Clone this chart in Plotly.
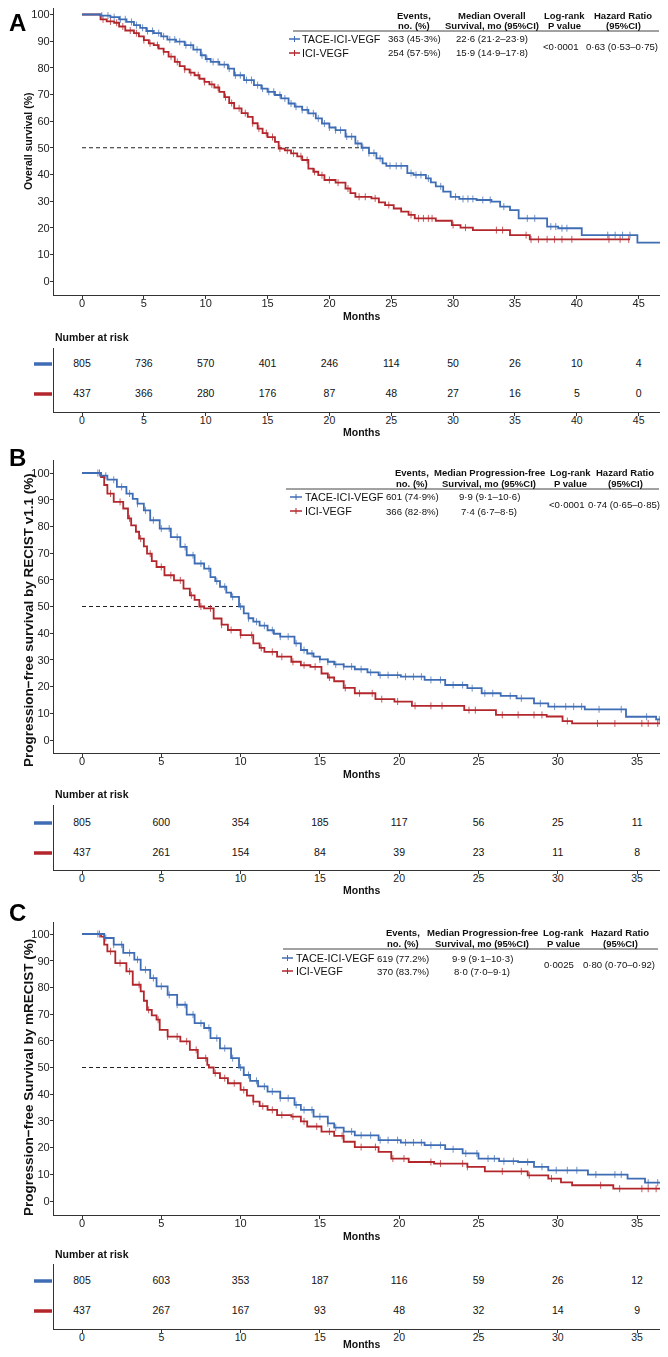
import numpy as np
import plotly.graph_objects as go

W, H = 668, 1357          # target page size
OFF = 8                   # default page margin around the plot div
FW, FH = W - 2 * OFF, H - 2 * OFF  # figure size that fits without scrollbars
RIGHT = W - OFF
BLUE = "#3F6DB5"
RED = "#B3262B"
AX = "#333333"
FONT = "Liberation Sans, Arial, sans-serif"
NARROW = "Liberation Sans Narrow, Liberation Sans, Arial, sans-serif"

# ---------------- DATA ----------------
groups = ["TACE-ICI-VEGF", "ICI-VEGF"]

# Panel A: overall survival
A_blue_t = [0, 1.0, 1.5, 2.3, 3.0, 3.6, 4.2, 4.7, 5.2, 5.8, 6.4, 6.9, 7.6, 8.3, 9.0, 9.6, 10.0, 10.4, 11.1, 11.8, 12.3,
            13.1, 13.9, 14.5, 15.0, 15.6, 16.1, 16.7, 17.2, 17.8, 18.3, 18.9, 19.4, 20.0, 20.5, 21.3, 22.1, 22.6, 23.2,
            23.8, 24.3, 24.6, 26.3, 26.8, 27.8, 28.2, 28.6, 29.2, 29.8, 30.5, 31.9, 33.1, 33.8, 34.6, 35.3, 37.6, 38.5,
            40.4, 44.9, 47.6]
A_blue_s = [100, 100, 99.6, 99, 98.2, 97.2, 96, 95, 93.8, 93, 91.8, 90.6, 89.8, 88.5, 86.8, 84.7, 83.3, 82.2, 81.2, 79.7,
            77.2, 75.4, 73.5, 72.2, 71, 69.8, 68.5, 66.6, 65.4, 64.2, 62.9, 61, 59.1, 57.6, 56.6, 54.2, 51.6, 50, 48,
            46, 44.1, 43.2, 40.5, 39.8, 38.5, 37, 35.5, 33.5, 31.6, 30.8, 30.4, 29.8, 27.9, 26.6, 23.5, 20.4, 19.8,
            17.2, 14.4, 14.4]
A_red_t = [0, 1.0, 1.5, 2.0, 2.6, 3.0, 3.5, 4.2, 4.6, 5.0, 5.4, 5.8, 6.2, 6.6, 7.0, 7.5, 7.9, 8.3, 8.7, 9.1, 9.5, 9.9,
           10.3, 10.7, 11.1, 11.5, 11.9, 12.3, 12.9, 13.4, 13.8, 14.2, 14.6, 15.0, 15.6, 15.9, 16.4, 16.9, 17.4, 17.8,
           18.3, 18.7, 19.1, 19.6, 20.5, 21.3, 21.7, 22.1, 23.4, 24.0, 24.5, 25.2, 25.8, 26.4, 26.9, 28.6, 29.9, 30.6,
           31.6, 34.6, 36.2, 44.3]
A_red_s = [100, 100, 98.2, 97.4, 96.9, 95.5, 94, 93, 91.8, 90.4, 89.2, 88.5, 87.2, 86, 84.2, 82.2, 80.6, 79.4, 78.2,
           77.2, 75.9, 74.7, 73.8, 72.6, 71, 69, 66.8, 64.8, 63, 61.6, 59.2, 57.2, 55.5, 54, 52.2, 49.7, 49, 47.9,
           46.8, 45.4, 42.2, 41, 39.7, 37.9, 36.9, 34.7, 33, 31.6, 31, 29.5, 28.5, 27.2, 26, 24.8, 23.5, 22.6, 21,
           20, 19.1, 17.2, 15.6, 15.6]
A_blue_cens = [1.6, 2.1, 2.6, 3.1, 3.5, 4.0, 4.4, 4.9, 5.3, 5.7, 6.2, 6.6, 7.1, 7.5, 7.9, 8.4, 8.8, 9.3, 9.7, 10.1, 10.6,
               11.0, 11.5, 11.9, 12.4, 12.8, 13.3, 13.7, 14.2, 14.6, 15.1, 15.5, 16.0, 16.4, 16.9, 17.3, 17.8, 18.2,
               18.7, 19.1, 19.6, 20.0, 20.5, 20.9, 21.4, 21.8, 22.3, 22.7, 23.2, 23.6, 24.1, 24.9, 25.4, 25.8, 26.6,
               27.0, 27.4, 28.0, 29.0, 30.2, 30.8, 31.2, 31.6, 32.4, 33.0, 34.1, 36.0, 36.6, 37.9, 38.3, 38.8, 39.2,
               42.5, 43.1, 43.7, 44.3, 46.9]
A_red_cens = [1.7, 2.3, 2.8, 3.3, 3.9, 4.4, 5.0, 5.5, 6.1, 6.6, 7.2, 7.7, 8.3, 8.8, 9.4, 9.9, 10.5, 11.0, 11.6, 12.1,
              12.7, 13.2, 13.8, 14.3, 14.9, 15.4, 16.0, 16.6, 17.1, 17.7, 18.2, 18.8, 19.4, 20.0, 20.7, 21.5, 22.4,
              22.9, 23.7, 24.8, 26.6, 27.2, 27.6, 28.0, 28.3, 30.0, 31.0, 33.5, 34.0, 35.9, 36.3, 36.9, 37.6, 38.2,
              38.8, 39.6, 42.6, 43.5, 44.2]
A_months = [0, 5, 10, 15, 20, 25, 30, 35, 40, 45]
A_risk_blue = [805, 736, 570, 401, 246, 114, 50, 26, 10, 4]
A_risk_red = [437, 366, 280, 176, 87, 48, 27, 16, 5, 0]
A_median = 22.6
A_stats = {"events": ["363 (45·3%)", "254 (57·5%)"],
           "median": ["22·6 (21·2–23·9)", "15·9 (14·9–17·8)"],
           "p": "<0·0001", "hr": "0·63 (0·53–0·75)"}

# Panel B: PFS by RECIST v1.1
B_blue_t = [0, 0.8, 1.2, 1.6, 2.2, 2.8, 3.2, 3.5, 3.9, 4.3, 4.9, 5.6, 6.2, 6.6, 7.1, 7.7, 8.1, 8.4, 8.7, 9.1, 9.4,
            9.9, 10.2, 10.5, 10.8, 11.2, 11.7, 12.1, 12.5, 13.4, 13.8, 14.2, 14.6, 15.0, 15.5, 15.9, 16.5, 17.2, 18.0,
            18.7, 20.1, 21.6, 22.9, 24.3, 25.2, 26.4, 27.4, 28.5, 29.4, 31.7, 34.3, 36.2, 37.2]
B_blue_s = [100, 100, 99, 97.5, 94.8, 92.3, 90.3, 88.5, 86, 82.3, 79.2, 76, 72.3, 69.2, 66.1, 64.2, 61, 59.5, 57.4,
            55.2, 53.6, 50, 47.4, 45.6, 44.3, 42.8, 41.1, 39.8, 38.7, 36.2, 33.7, 32.4, 31.2, 30.2, 29.3, 28.3, 27.5,
            26.5, 25.3, 24.3, 23.7, 22.5, 20.6, 19.4, 17.5, 16.5, 15.6, 13.7, 12.5, 11.5, 8.7, 7.7, 7.7]
B_red_t = [0, 0.8, 1.2, 1.4, 1.6, 2.0, 2.6, 2.9, 3.1, 3.4, 3.6, 3.9, 4.1, 4.4, 4.7, 5.2, 5.8, 6.4, 6.8, 7.1, 7.4, 7.7,
           8.3, 8.8, 9.2, 10.0, 10.8, 11.2, 11.5, 12.3, 13.2, 13.8, 14.4, 15.1, 15.5, 15.9, 16.5, 17.2, 18.5, 19.7,
           20.8, 24.1, 26.1, 29.3, 30.3, 30.9, 36.7, 37.2]
B_red_s = [100, 100, 98.5, 95.5, 92.3, 89.2, 86.7, 83, 80.4, 78, 75.4, 72.5, 69.8, 67, 64.8, 61.7, 59.8, 56.7, 54.2,
           52.5, 50, 49.3, 45.5, 43.2, 41.2, 39.3, 36.2, 34.5, 33, 31.2, 29.3, 28, 27.4, 24.9, 23.4, 22, 19.5, 17.5,
           15.3, 14.4, 12.8, 11.2, 9.4, 8.8, 7.1, 6.2, 5.2, 5.2]
B_blue_cens = [1.0, 1.5, 2.0, 2.5, 3.0, 3.5, 4.0, 4.5, 5.0, 5.5, 6.0, 6.5, 7.0, 7.5, 8.0, 8.5, 9.0, 9.5, 10.0, 10.5,
               11.0, 11.5, 12.0, 12.5, 13.0, 13.5, 14.0, 14.5, 15.0, 15.5, 16.0, 16.5, 17.0, 17.6, 18.2, 18.8, 19.3,
               19.9, 20.4, 20.9, 21.4, 22.0, 22.6, 23.4, 24.0, 24.6, 25.4, 25.9, 27.0, 27.7, 28.9, 29.8, 30.5, 31.0,
               31.5, 32.6, 34.0, 35.6, 36.4]
B_red_cens = [1.1, 1.8, 2.4, 3.0, 3.7, 4.3, 5.0, 5.6, 6.2, 6.9, 7.5, 8.1, 8.8, 9.4, 10.0, 10.7, 11.3, 12.0, 12.6, 13.3,
              14.0, 14.7, 15.6, 16.6, 17.5, 18.3, 18.9, 19.9, 21.0, 22.0, 22.7, 24.4, 24.8, 26.5, 27.5, 28.5, 29.0,
              30.6, 32.5, 33.6, 35.3, 35.7, 36.3]
B_months = [0, 5, 10, 15, 20, 25, 30, 35]
B_risk_blue = [805, 600, 354, 185, 117, 56, 25, 11]
B_risk_red = [437, 261, 154, 84, 39, 23, 11, 8]
B_median = 9.9
B_stats = {"events": ["601 (74·9%)", "366 (82·8%)"],
           "median": ["9·9 (9·1–10·6)", "7·4 (6·7–8·5)"],
           "p": "<0·0001", "hr": "0·74 (0·65–0·85)"}

# Panel C: PFS by mRECIST
C_blue_t = [0, 0.8, 1.4, 2.0, 2.6, 3.3, 3.7, 4.3, 4.7, 5.4, 6.0, 6.6, 7.1, 7.7, 8.1, 8.7, 9.4, 9.9, 10.2, 10.6, 11.1,
            11.7, 12.5, 13.4, 13.8, 14.6, 15.5, 15.9, 16.5, 17.2, 18.7, 20.1, 21.6, 22.9, 24.0, 25.0, 26.3, 27.5, 28.5,
            29.4, 31.9, 34.4, 35.5, 37.2]
C_blue_s = [100, 100, 98.5, 96, 92.9, 90.4, 86.6, 83.5, 80.4, 77.2, 73.5, 69.8, 66.6, 64.8, 61, 57.2, 53.5, 50, 47.2,
            45, 42.9, 41, 38.5, 36, 34.1, 31.6, 29.1, 27.5, 26, 24.6, 22.8, 21.9, 20.9, 19.4, 17.8, 15.9, 14.9, 14.6,
            12.8, 11.5, 9.9, 8.4, 6.9, 6.9]
C_red_t = [0, 0.8, 1.2, 1.4, 1.6, 2.1, 2.8, 3.2, 3.7, 3.9, 4.1, 4.4, 4.7, 4.9, 5.4, 6.2, 6.8, 7.3, 7.9, 8.0, 8.3, 8.7,
           9.2, 10.0, 10.4, 10.8, 11.2, 11.7, 12.3, 13.2, 13.8, 14.2, 15.1, 15.9, 16.5, 17.2, 18.7, 19.5, 20.6, 22.2,
           24.3, 25.4, 28.1, 29.4, 30.2, 30.9, 33.5, 36.8, 37.2]
C_red_s = [100, 100, 99, 96, 93.5, 89.1, 86, 81, 78.5, 75, 71.6, 69.5, 67.9, 64.1, 61.6, 59.8, 56.6, 53.5, 51, 50,
           47.9, 46, 44.1, 41.6, 39.5, 37.2, 35.5, 34.1, 32.2, 31.6, 29.8, 27.9, 26, 24.4, 22.2, 20.2, 18.4, 15.9,
           14.6, 14, 12.8, 11.1, 9.6, 8.4, 7, 5.9, 4.6, 4, 4]
C_blue_cens = [1.0, 1.5, 2.0, 2.5, 3.0, 3.5, 4.0, 4.5, 5.0, 5.5, 6.0, 6.5, 7.0, 7.5, 8.0, 8.5, 9.0, 9.5, 10.0, 10.5,
               11.0, 11.5, 12.0, 12.5, 13.0, 13.5, 14.0, 14.5, 15.0, 15.5, 16.0, 16.5, 17.0, 17.6, 18.2, 18.8, 19.3,
               19.9, 20.4, 20.9, 21.4, 22.0, 22.6, 23.4, 24.2, 24.9, 25.6, 26.0, 26.6, 27.2, 28.1, 29.0, 29.9, 30.6,
               31.2, 32.4, 33.6, 34.0, 35.7, 36.3]
C_red_cens = [1.1, 1.8, 2.4, 3.0, 3.6, 4.2, 4.8, 5.4, 6.0, 6.6, 7.2, 7.8, 8.4, 9.0, 9.6, 10.2, 10.8, 11.4, 12.0, 12.6,
              13.3, 14.0, 14.8, 15.6, 16.4, 17.6, 18.5, 19.6, 20.3, 22.0, 22.6, 24.0, 24.3, 26.5, 27.7, 28.2, 29.6,
              32.7, 33.9, 35.3, 35.7, 36.2]
C_months = [0, 5, 10, 15, 20, 25, 30, 35]
C_risk_blue = [805, 603, 353, 187, 116, 59, 26, 12]
C_risk_red = [437, 267, 167, 93, 48, 32, 14, 9]
C_median = 9.9
C_stats = {"events": ["619 (77.2%)", "370 (83.7%)"],
           "median": ["9·9 (9·1–10·3)", "8·0 (7·0–9·1)"],
           "p": "0·0025", "hr": "0·80 (0·70–0·92)"}

y_ticks = [0, 10, 20, 30, 40, 50, 60, 70, 80, 90, 100]

# ---------------- LAYOUT GEOMETRY (page pixels) ----------------
panels = [
    dict(letter="A", letter_y=14, top=1, bottom=295, y100=14.5, y0=281, x0px=82, pxmo=12.37,
         ytitle="Overall survival (%)", ytsize=10.5, yt_y=142, months_y=316,
         nar_y=337, r_top=348, r_bot=412, r1=364, r2=394, rmonths_y=432,
         bt=A_blue_t, bs=A_blue_s, rt=A_red_t, rs=A_red_s, bc=A_blue_cens, rc=A_red_cens,
         months=A_months, rb=A_risk_blue, rr=A_risk_red, median=A_median, stats=A_stats,
         median_head="Median Overall",
         h1=15, h2=25, line_y=31, lx0=293, lx1=659, row1=39, row2=53, mk0=289, mk1=300, name_x=301,
         cols=(414, 492, 564, 623)),
    dict(letter="B", letter_y=457, top=460, bottom=753, y100=473, y0=740, x0px=82, pxmo=15.86,
         ytitle="Progression−free survival by RECIST v1.1 (%)", ytsize=13.5, yt_y=620, months_y=774,
         nar_y=794, r_top=805, r_bot=870, r1=823, r2=853, rmonths_y=890,
         bt=B_blue_t, bs=B_blue_s, rt=B_red_t, rs=B_red_s, bc=B_blue_cens, rc=B_red_cens,
         months=B_months, rb=B_risk_blue, rr=B_risk_red, median=B_median, stats=B_stats,
         median_head="Median Progression-free",
         h1=472, h2=483, line_y=489, lx0=286, lx1=659, row1=497, row2=511, mk0=290, mk1=302, name_x=304,
         cols=(412, 489, 570, 625)),
    dict(letter="C", letter_y=912, top=922, bottom=1215, y100=934, y0=1201, x0px=82, pxmo=15.86,
         ytitle="Progression−free Survival by mRECIST (%)", ytsize=13.5, yt_y=1078, months_y=1236,
         nar_y=1254, r_top=1264, r_bot=1329, r1=1281, r2=1311, rmonths_y=1344,
         bt=C_blue_t, bs=C_blue_s, rt=C_red_t, rs=C_red_s, bc=C_blue_cens, rc=C_red_cens,
         months=C_months, rb=C_risk_blue, rr=C_risk_red, median=C_median, stats=C_stats,
         median_head="Median Progression-free",
         h1=932, h2=943, line_y=949, lx0=283, lx1=658, row1=958, row2=971, mk0=282, mk1=293, name_x=295,
         cols=(403, 482, 563, 620)),
]

LEFT = 54


def px(x):
    return (x - OFF) / FW


def py(y):
    return 1 - (y - OFF) / FH


def step_lookup(ts, ss, cx):
    ts = np.asarray(ts)
    ss = np.asarray(ss)
    idx = np.searchsorted(ts, np.asarray(cx), side="right") - 1
    return ss[np.clip(idx, 0, len(ss) - 1)]


fig = go.Figure()
annotations = []
shapes = []
layout_axes = {}


def ann(x, y, text, size=10, bold=False, xanchor="center", family=FONT, color="#111", angle=0, yanchor="middle"):
    if bold:
        text = "<b>" + text + "</b>"
    annotations.append(dict(xref="paper", yref="paper", x=px(x), y=py(y), text=text, showarrow=False,
                            xanchor=xanchor, yanchor=yanchor, textangle=angle, borderpad=0,
                            font=dict(size=size, family=family, color=color)))


for i, p in enumerate(panels):
    mi, ri = 2 * i + 1, 2 * i + 2
    mx = "x" if mi == 1 else f"x{mi}"
    my = "y" if mi == 1 else f"y{mi}"
    rx, ry = f"x{ri}", f"y{ri}"
    top = max(p["top"], OFF)
    xr = [(LEFT - p["x0px"]) / p["pxmo"], (RIGHT - p["x0px"]) / p["pxmo"]]
    ppp = (p["y0"] - p["y100"]) / 100.0
    yr = [-(p["bottom"] - p["y0"]) / ppp, 100 + (p["y100"] - top) / ppp]
    s = p["r2"] - p["r1"]
    ryr = [1 - (p["r_bot"] - p["r2"]) / s, 2 + (p["r1"] - p["r_top"]) / s]

    axkey = "xaxis" if mi == 1 else f"xaxis{mi}"
    aykey = "yaxis" if mi == 1 else f"yaxis{mi}"
    common = dict(showline=True, linecolor=AX, linewidth=1.2, ticks="outside", ticklen=3, tickcolor=AX,
                  showgrid=False, zeroline=False)
    layout_axes[axkey] = dict(common, domain=[px(LEFT), 1], range=xr, anchor=my, tickvals=p["months"],
                              ticklabelstandoff=-5,
                              tickfont=dict(size=11, family=FONT, color="#222"))
    layout_axes[aykey] = dict(common, domain=[py(p["bottom"]), py(top)], range=yr, anchor=mx,
                              tickvals=y_ticks, ticklabelstandoff=-2,
                              tickfont=dict(size=11, family=FONT, color="#222"))
    layout_axes[f"xaxis{ri}"] = dict(common, domain=[px(LEFT), 1], range=xr, anchor=ry, tickvals=p["months"],
                                     ticklabelstandoff=-5,
                                     tickfont=dict(size=10.5, family=FONT, color="#222"))
    layout_axes[f"yaxis{ri}"] = dict(showline=True, linecolor=AX, linewidth=1.2, showgrid=False, zeroline=False,
                                     showticklabels=False, ticks="", domain=[py(p["r_bot"]), py(p["r_top"])],
                                     range=ryr, anchor=rx)

    # median dashed line
    fig.add_trace(go.Scatter(x=[0, p["median"]], y=[50, 50], mode="lines", xaxis=mx, yaxis=my,
                             line=dict(color="#222", width=1, dash="4px,3px"), showlegend=False, hoverinfo="skip"))
    # curves with censor marks
    for t, sv, c, col in [(p["rt"], p["rs"], p["rc"], RED), (p["bt"], p["bs"], p["bc"], BLUE)]:
        fig.add_trace(go.Scatter(x=t, y=sv, mode="lines", line=dict(color=col, width=1.8, shape="hv"),
                                 xaxis=mx, yaxis=my, showlegend=False, hoverinfo="skip"))
        fig.add_trace(go.Scatter(x=c, y=step_lookup(t, sv, c), mode="markers", xaxis=mx, yaxis=my,
                                 marker=dict(symbol="line-ns-open", size=5, color=col,
                                             line=dict(color=col, width=1)),
                                 opacity=0.75, showlegend=False, hoverinfo="skip"))
    # risk table numbers
    fig.add_trace(go.Scatter(x=p["months"], y=[2] * len(p["months"]), mode="text", text=[str(v) for v in p["rb"]],
                             textfont=dict(size=10.5, family=NARROW, color="#111"), xaxis=rx, yaxis=ry,
                             showlegend=False, hoverinfo="skip"))
    fig.add_trace(go.Scatter(x=p["months"], y=[1] * len(p["months"]), mode="text", text=[str(v) for v in p["rr"]],
                             textfont=dict(size=10.5, family=NARROW, color="#111"), xaxis=rx, yaxis=ry,
                             showlegend=False, hoverinfo="skip"))
    # risk legend bars
    for yy, col in [(p["r1"], BLUE), (p["r2"], RED)]:
        shapes.append(dict(type="line", xref="paper", yref="paper", x0=px(34), x1=px(52), y0=py(yy), y1=py(yy),
                           line=dict(color=col, width=3.5)))

    # texts
    if p["top"] < OFF + 5:
        ann(OFF, OFF, p["letter"], size=24, bold=True, color="#000", xanchor="left", yanchor="top")
    else:
        ann(OFF, p["letter_y"], p["letter"], size=24, bold=True, color="#000", xanchor="left")
    ann(28, p["yt_y"], p["ytitle"], size=p["ytsize"], bold=True, angle=-90)
    ann((LEFT + W) / 2, p["months_y"], "Months", size=10.5, bold=True)
    ann(LEFT, p["nar_y"], "Number at risk", size=10.5, bold=True, xanchor="left", family=NARROW)
    ann((LEFT + W) / 2, p["rmonths_y"], "Months", size=10.5, bold=True, family=NARROW)

    # stats table
    ce, cm, cp, ch = p["cols"]
    hs = 9.5
    vs = 9.6
    ann(ce, p["h1"], "Events,", size=hs, bold=True)
    ann(ce, p["h2"], "no. (%)", size=hs, bold=True)
    ann(cm, p["h1"], p["median_head"], size=hs, bold=True)
    ann(cm, p["h2"], "Survival, mo (95%CI)", size=hs, bold=True)
    ann(cp, p["h1"], "Log-rank", size=hs, bold=True)
    ann(cp, p["h2"], "P value", size=hs, bold=True)
    ann(ch, p["h1"], "Hazard Ratio", size=hs, bold=True)
    ann(ch, p["h2"], "(95%CI)", size=hs, bold=True)
    shapes.append(dict(type="line", xref="paper", yref="paper", x0=px(p["lx0"]), x1=px(p["lx1"]),
                       y0=py(p["line_y"]), y1=py(p["line_y"]), line=dict(color="#444", width=1)))
    st = p["stats"]
    for k, (yy, col) in enumerate([(p["row1"], BLUE), (p["row2"], RED)]):
        shapes.append(dict(type="line", xref="paper", yref="paper", x0=px(p["mk0"]), x1=px(p["mk1"]),
                           y0=py(yy), y1=py(yy), line=dict(color=col, width=1.5)))
        mid = (p["mk0"] + p["mk1"]) / 2
        shapes.append(dict(type="line", xref="paper", yref="paper", x0=px(mid), x1=px(mid),
                           y0=py(yy - 3), y1=py(yy + 3), line=dict(color=col, width=1)))
        ann(p["name_x"], yy, groups[k], size=10.8, xanchor="left")
        ann(ce, yy, st["events"][k], size=vs)
        ann(cm, yy, st["median"][k], size=vs)
    mid_y = (p["row1"] + p["row2"]) / 2
    ann(cp - 4, mid_y, st["p"], size=vs)
    ann(ch - 1, mid_y, st["hr"], size=vs)

fig.update_layout(width=FW, height=FH, margin=dict(l=0, r=0, t=0, b=0), paper_bgcolor="white",
                  plot_bgcolor="white", showlegend=False, annotations=annotations, shapes=shapes,
                  **layout_axes)
fig.write_html("out.html")
